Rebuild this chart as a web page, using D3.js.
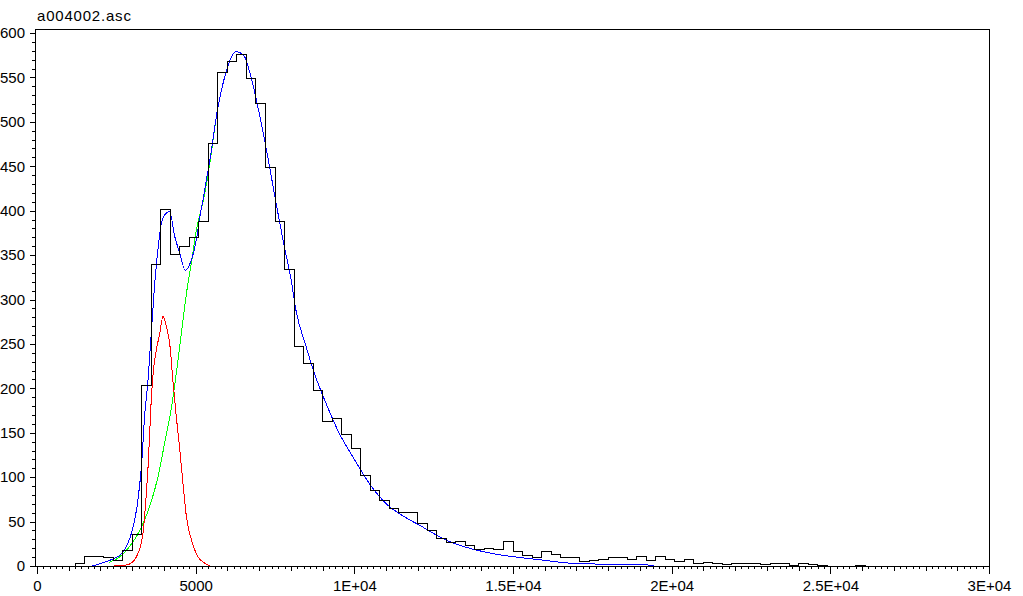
<!DOCTYPE html>
<html lang="en">
<head>
  <meta charset="UTF-8" />
  <title>a004002.asc</title>
  <script src="https://d3js.org/d3.v7.min.js"></script>
  <style>
    body{margin:0;background:#fff}
    svg{display:block;font-family:"Liberation Sans",Arial,sans-serif}
    .axis text{font-size:15px;fill:#000}
    .axis line{stroke:#000;shape-rendering:crispEdges}
    .axis path{display:none}
    .frame{fill:none;stroke:#000;shape-rendering:crispEdges}
    .fit{fill:none;stroke-width:1;shape-rendering:crispEdges}
  </style>
</head>
<body>
  <div id="chart"></div>
  <script>
    // histogram: bins of 300 starting at 1200
    const binStart = 1200;
    const binWidth = 300;
    const counts = [
      3, 11, 11, 10, 6, 17, 36, 203, 339, 401,
      351, 360, 370, 388, 476, 555, 568, 576, 549, 521,
      449, 388, 334, 247, 228, 197, 163, 166, 148, 132,
      102, 85, 74, 65, 60, 60, 48, 40, 31, 26,
      28, 23, 19, 20, 19, 28, 16, 12, 10, 16,
      13, 10, 10, 5, 6, 7, 10, 10, 7, 11,
      6, 11, 7, 5, 7, 3, 4, 3, 2, 3,
      3, 3, 2, 3, 3, 1, 3, 2, 1, 0,
      0, 0, 1
    ];

    // fitted curves [x, y]
    const redFit = [
      [2430,0],[2700,0.5],[2900,2],[3030,5],[3180,14],[3340,37],[3430,74],[3500,112],
      [3550,149],[3600,187],[3660,217],[3760,243],[3870,262],[3970,281],[4080,269],
      [4180,251],[4290,206],[4390,168],[4500,131],[4600,93],[4710,55],[4870,29],
      [5080,10],[5290,3],[5440,0]
    ];
    const greenFit = [
      [2270,4],[2600,10],[2920,22],[3240,40],[3550,67],[3810,100],[4020,138],[4240,179],
      [4390,217],[4550,262],[4710,307],[4860,340],[5020,378],[5180,402],[5290,420],
      [5430,450],[5690,514],[5950,555]
    ];
    const blueFit = [
      [1750,0],[2100,4],[2400,8],[2610,12],[2820,22],[3030,44],[3180,74],[3290,112],
      [3390,168],[3500,210],[3600,262],[3710,318],[3810,356],[3920,386],[4020,395],
      [4180,399],[4340,371],[4500,352],[4670,333],[4860,344],[5020,367],[5130,393],
      [5230,412],[5340,435],[5430,453],[5690,514],[5950,555],[6270,579],[6530,574],
      [6740,551],[7000,510],[7270,461],[7530,409],[7790,360],[8000,324],[8160,288],
      [8480,247],[8740,217],[9110,183],[9530,149],[9950,123],[10470,93],[11100,67],
      [11420,59],[11740,52],[12050,46],[12580,35],[13100,26],[13730,19],[14360,14],
      [15000,10.5],[15840,7],[16890,3],[17940,2],[19430,1]
    ];

    const xMajorTicks = [0, 5000, 10000, 15000, 20000, 25000, 30000];
    const xTickLabels = ["0", "5000", "1E+04", "1.5E+04", "2E+04", "2.5E+04", "3E+04"];
    const yMajorTicks = [0, 50, 100, 150, 200, 250, 300, 350, 400, 450, 500, 550, 600];

    const W = 1023, H = 596;
    const svg = d3.select("#chart").append("svg").attr("width", W).attr("height", H);
    svg.append("rect").attr("width", W).attr("height", H).attr("fill", "#fff");

    const x = d3.scaleLinear().domain([0, 30000]).range([37, 989]);
    const y = d3.scaleLinear().domain([0, 600]).range([566, 33]);

    svg.append("text").attr("x", 37).attr("y", 21)
      .style("font-size", "15px").style("letter-spacing", "0.8px")
      .text("a004002.asc");

    // x axis: minor / medium / major ticks
    svg.append("g").attr("class", "axis").attr("transform", "translate(0,566)")
      .call(d3.axisBottom(x).tickValues(d3.range(0, 30001, 200)).tickSize(3).tickFormat(""));
    svg.append("g").attr("class", "axis").attr("transform", "translate(0,566)")
      .call(d3.axisBottom(x).tickValues(d3.range(0, 30001, 1000)).tickSize(5).tickFormat(""));
    svg.append("g").attr("class", "axis").attr("transform", "translate(0,566)")
      .call(d3.axisBottom(x).tickValues(xMajorTicks).tickSize(8).tickPadding(6)
        .tickFormat((d, i) => xTickLabels[i]));

    // y axis
    svg.append("g").attr("class", "axis").attr("transform", "translate(35,0)")
      .call(d3.axisLeft(y).tickValues(d3.range(0, 601, 10)).tickSize(3).tickFormat(""));
    svg.append("g").attr("class", "axis").attr("transform", "translate(35,0)")
      .call(d3.axisLeft(y).tickValues(yMajorTicks).tickSize(5).tickPadding(5));

    // frame
    svg.append("path").attr("class", "frame")
      .attr("d", "M35.5,566.5V29.5H989.5V566.5H35.5");

    const curve = d3.line().x(d => x(d[0])).y(d => y(d[1])).curve(d3.curveMonotoneX);
    svg.append("path").datum(greenFit).attr("class", "fit").attr("stroke", "#00ff00").attr("d", curve);
    svg.append("path").datum(redFit).attr("class", "fit").attr("stroke", "#ff0000").attr("d", curve);
    svg.append("path").datum(blueFit).attr("class", "fit").attr("stroke", "#0000ff").attr("d", curve);

    // histogram as step line
    const steps = [[binStart, 0]];
    counts.forEach((c, i) => steps.push([binStart + i * binWidth, c]));
    const binEnd = binStart + counts.length * binWidth;
    steps.push([binEnd, counts[counts.length - 1]]);
    steps.push([binEnd, 0]);
    svg.append("path").datum(steps)
      .attr("fill", "none").attr("stroke", "#000").attr("stroke-width", 1)
      .style("shape-rendering", "crispEdges")
      .attr("d", d3.line().x(d => x(d[0])).y(d => y(d[1])).curve(d3.curveStepAfter));
  </script>
</body>
</html>
